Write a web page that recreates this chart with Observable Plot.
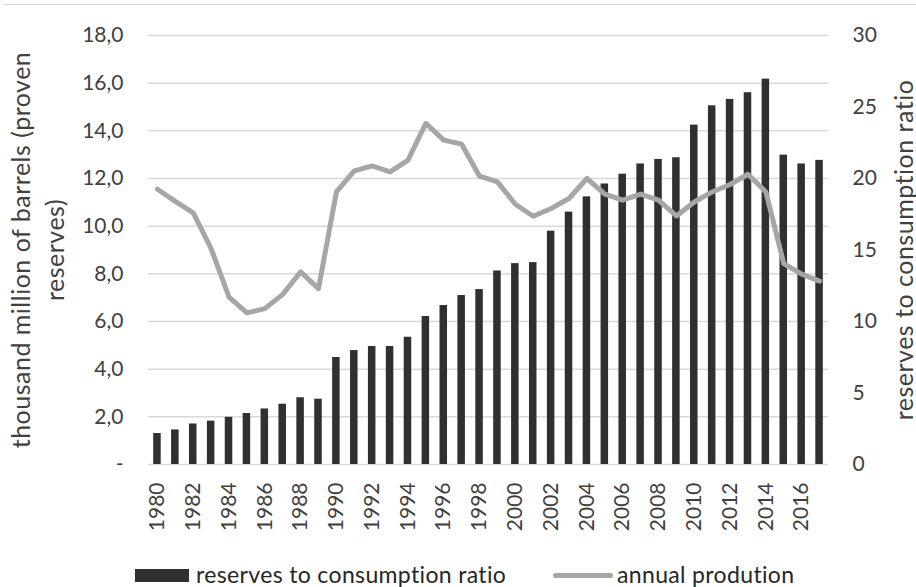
<!DOCTYPE html>
<html>
<head>
<meta charset="utf-8">
<script src="https://cdn.jsdelivr.net/npm/d3@7"></script>
<script src="https://cdn.jsdelivr.net/npm/@observablehq/plot@0.6"></script>
<style>
  html, body { margin: 0; padding: 0; background: #fff; }
  body { width: 916px; height: 587px; overflow: hidden; font-family: Lato, "Noto Sans", sans-serif; }
  #top { height: 4px; }
  #frame { margin-left: 3px; border-top: 1px solid #d9d9d9; width: 913px; }
  #chart { margin-left: -3px; height: 550px; }
  #legend { position: relative; height: 32px; font-size: 23px; letter-spacing: 0.35px; color: #262626; }
  #legend .sw1 { position: absolute; left: 135px; top: 14px; width: 54px; height: 13px; background: #303030; }
  #legend .sw2 { position: absolute; left: 553px; top: 18px; width: 60px; height: 5px; border-radius: 3px; background: #a6a6a6; }
  #legend .t { position: absolute; top: 7px; line-height: 25px; white-space: nowrap; }
</style>
</head>
<body>
<div id="top"></div>
<div id="frame"><div id="chart"></div></div>
<div id="legend">
  <div class="sw1"></div><div class="t" style="left:196px">reserves to consumption ratio</div>
  <div class="sw2"></div><div class="t" style="left:617px">annual prodution</div>
</div>
<script>
const years = [1980,1981,1982,1983,1984,1985,1986,1987,1988,1989,
               1990,1991,1992,1993,1994,1995,1996,1997,1998,1999,
               2000,2001,2002,2003,2004,2005,2006,2007,2008,2009,
               2010,2011,2012,2013,2014,2015,2016,2017];
// bars: left axis (thousand million of barrels)
const barValues = [1.3,1.45,1.7,1.82,1.98,2.14,2.33,2.53,2.8,2.74,
                   4.49,4.78,4.95,4.95,5.34,6.21,6.67,7.09,7.34,8.12,
                   8.43,8.47,9.79,10.59,11.23,11.77,12.18,12.61,12.8,12.87,
                   14.24,15.05,15.32,15.6,16.17,12.98,12.61,12.76];
// line: right axis (0-30)
const lineValues = [19.25,18.4,17.6,15.1,11.7,10.6,10.9,11.9,13.47,12.3,
                    19.06,20.53,20.88,20.46,21.28,23.85,22.68,22.4,20.16,19.76,
                    18.2,17.36,17.9,18.6,20.0,18.9,18.48,18.9,18.48,17.38,
                    18.36,19.06,19.58,20.3,19.06,14.05,13.31,12.82];
const leftTicks = [0,2,4,6,8,10,12,14,16,18];
const rightTicks = [0,5,10,15,20,25,30];
const xTickYears = [1980,1982,1984,1986,1988,1990,1992,1994,1996,1998,2000,2002,2004,2006,2008,2010,2012,2014,2016];
const leftMax = 18, rightMax = 30;
const leftTitle1 = "thousand million of barrels (proven";
const leftTitle2 = "reserves)";
const rightTitle = "reserves to consumption ratio";

const bars = years.map((y, i) => ({year: y, value: barValues[i]}));
const line = years.map((y, i) => ({year: y, value: lineValues[i] * leftMax / rightMax}));

const titleStyle = {rotate: -90, fontSize: 25, fill: "#404040", textAnchor: "middle", lineAnchor: "middle"};

const chart = Plot.plot({
  width: 916,
  height: 550,
  marginLeft: 148,
  marginRight: 88,
  marginTop: 30,
  marginBottom: 91,
  style: {fontFamily: "Lato, 'Noto Sans', sans-serif", fontSize: "21px", color: "#404040", background: "#fff"},
  x: {type: "band", domain: years, paddingInner: 0.58, paddingOuter: 0.29},
  y: {domain: [0, leftMax]},
  marks: [
    Plot.ruleY(leftTicks, {stroke: "#d9d9d9", strokeWidth: 1.5}),
    Plot.barY(bars, {x: "year", y: "value", fill: "#303030"}),
    Plot.line(line, {x: "year", y: "value", stroke: "#a6a6a6", strokeWidth: 5, strokeLinejoin: "round", strokeLinecap: "round"}),
    Plot.axisY(leftTicks, {anchor: "left", tickSize: 0, tickPadding: 25, fontSize: 21, fill: "#404040",
      tickFormat: d => d === 0 ? "-" : d.toFixed(1).replace(".", ","), label: null}),
    Plot.axisY(rightTicks.map(v => v * leftMax / rightMax), {anchor: "right", tickSize: 0, tickPadding: 24, fontSize: 21, fill: "#404040",
      tickFormat: d => String(Math.round(d * rightMax / leftMax)), label: null}),
    Plot.axisX(xTickYears, {anchor: "bottom", tickSize: 0, tickPadding: 18, tickRotate: -90, fontSize: 21, fill: "#404040",
      tickFormat: d => String(d), label: null}),
    Plot.text([leftTitle1], {...titleStyle, frameAnchor: "left", dx: -127, text: d => d}),
    Plot.text([leftTitle2], {...titleStyle, frameAnchor: "left", dx: -93, text: d => d}),
    Plot.text([rightTitle], {...titleStyle, frameAnchor: "right", dx: 76, text: d => d})
  ]
});
chart.querySelectorAll("text").forEach(t => {
  if (t.textContent === leftTitle1 || t.textContent === leftTitle2 || t.textContent === rightTitle) {
    t.setAttribute("letter-spacing", "0.5");
  }
});
document.getElementById("chart").appendChild(chart);
</script>
</body>
</html>
